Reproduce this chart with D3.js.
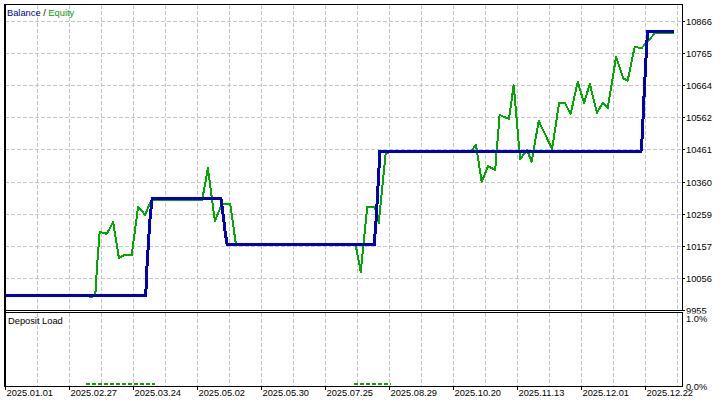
<!DOCTYPE html>
<html>
<head>
<meta charset="utf-8">
<script src="https://cdn.jsdelivr.net/npm/d3@7"></script>
<style>
  body { margin: 0; background: #fff; }
  text { font-family: "Liberation Sans", Arial, sans-serif; font-size: 9.3px; }
</style>
</head>
<body>
<script>
// Tick labels
const dateLabels = ['2025.01.01', '2025.02.27', '2025.03.24', '2025.05.02', '2025.05.30',
    '2025.07.25', '2025.08.29', '2025.10.20', '2025.11.13', '2025.12.01', '2025.12.22'];
const dateIndex = [0, 10, 20, 30, 40, 50, 60, 70, 80, 90, 100];
const valueTicks = [9955, 10056, 10157, 10259, 10360, 10461, 10562, 10664, 10765, 10866];

// Balance: [deal index, value]
const balance = [
    [0, 10002], [22.0, 10002], [22.2, 10097], [22.7, 10254], [23.0, 10305],
    [33.75, 10305], [34.1, 10254], [34.4, 10201], [34.7, 10163],
    [57.7, 10163], [58.0, 10239], [58.3, 10349], [58.6, 10456],
    [99.4, 10456], [99.6, 10506], [99.9, 10645], [100.4, 10832], [104.5, 10832]
];

// Equity: [deal index, value]
const equity = [
    [0, 9999], [13.0, 9999], [13.4, 9996], [14.1, 9999], [14.4, 10097], [14.8, 10201],
    [15.9, 10195], [16.9, 10232], [17.8, 10119], [18.6, 10128], [19.8, 10128],
    [20.8, 10280], [21.9, 10255], [22.8, 10299], [23.4, 10302], [30.8, 10302],
    [31.25, 10349], [31.7, 10403], [32.8, 10236], [33.9, 10289], [35.2, 10289],
    [36.1, 10160], [54.8, 10160], [55.6, 10075], [56.6, 10280], [57.8, 10280],
    [58.4, 10229], [59.5, 10450], [60.6, 10453], [72.7, 10453], [73.6, 10475],
    [74.5, 10359], [75.5, 10409], [76.6, 10396], [77.3, 10570], [78.75, 10557],
    [79.5, 10664], [80.5, 10431], [81.6, 10459], [82.3, 10422], [83.4, 10551],
    [85.5, 10463], [86.6, 10608], [87.5, 10608], [88.4, 10573], [89.5, 10674],
    [90.5, 10608], [91.4, 10668], [92.5, 10576], [93.4, 10608], [94.2, 10592],
    [95.5, 10753], [96.6, 10686], [97.3, 10677], [98.4, 10784], [99.5, 10781],
    [101.6, 10828], [104.5, 10828]
];

// Deposit load, percent: [from index, to index, value]
const depositLoad = [[12.7, 23.4, 0.03], [54.5, 60.3, 0.03]];

const width = 727;
const height = 403;
const left = 4.5, right = 682;
const mainTop = 4.5, mainBottom = 310.5;
const subTop = 312.5, subBottom = 386.5;

const svg = d3.select('body')
    .append('svg')
    .attr('width', width)
    .attr('height', height);

const x = d3.scaleLinear().domain([0, 105.8]).range([5, 682]);
const y = d3.scaleLinear().domain([9955, 10866]).range([310, 21]);
const ySub = d3.scaleLinear().domain([0, 1]).range([subBottom, subTop]);

// Grid
const grid = svg.append('g')
    .attr('stroke', '#c4c4c4')
    .attr('stroke-dasharray', '4,2')
    .attr('shape-rendering', 'crispEdges');

d3.range(5, 106, 5).forEach(t => {
    grid.append('line')
        .attr('x1', Math.round(x(t)) + 0.5).attr('x2', Math.round(x(t)) + 0.5)
        .attr('y1', mainTop).attr('y2', mainBottom);
    grid.append('line')
        .attr('x1', Math.round(x(t)) + 0.5).attr('x2', Math.round(x(t)) + 0.5)
        .attr('y1', subTop).attr('y2', subBottom);
});

valueTicks.slice(1).forEach(v => {
    grid.append('line')
        .attr('x1', left).attr('x2', right)
        .attr('y1', Math.round(y(v)) + 0.5).attr('y2', Math.round(y(v)) + 0.5);
});

// Lines
svg.append('clipPath').attr('id', 'clipMain')
    .append('rect')
    .attr('x', left).attr('y', mainTop)
    .attr('width', right - left).attr('height', mainBottom - mainTop);

const line = d3.line()
    .x(d => x(d[0]))
    .y(d => y(d[1]));

const plot = svg.append('g').attr('clip-path', 'url(#clipMain)');

plot.append('path')
    .datum(equity)
    .attr('d', line)
    .attr('fill', 'none')
    .attr('stroke', '#00a800')
    .attr('stroke-width', 2)
    .attr('stroke-linejoin', 'round')
    .attr('shape-rendering', 'crispEdges');

plot.append('path')
    .datum(balance)
    .attr('d', line)
    .attr('fill', 'none')
    .attr('stroke', '#0000b4')
    .attr('stroke-width', 3)
    .attr('shape-rendering', 'crispEdges');

// Deposit load
svg.selectAll('.load')
    .data(depositLoad)
    .enter()
    .append('line')
    .attr('x1', d => x(d[0]))
    .attr('x2', d => x(d[1]))
    .attr('y1', d => ySub(d[2]))
    .attr('y2', d => ySub(d[2]))
    .attr('stroke', '#00a800')
    .attr('stroke-width', 2)
    .attr('stroke-dasharray', '4,2')
    .attr('shape-rendering', 'crispEdges');

// Frames
const frame = svg.append('g')
    .attr('fill', 'none')
    .attr('stroke', '#000')
    .attr('shape-rendering', 'crispEdges');

frame.append('rect')
    .attr('x', left).attr('y', mainTop)
    .attr('width', right - left).attr('height', mainBottom - mainTop);
frame.append('rect')
    .attr('x', left).attr('y', subTop)
    .attr('width', right - left).attr('height', subBottom - subTop);
frame.append('line')
    .attr('x1', left).attr('x2', left)
    .attr('y1', mainTop).attr('y2', subBottom)
    .attr('stroke-width', 2);

// Right value axis
valueTicks.forEach(v => {
    const yy = Math.round(y(v)) + 0.5;
    frame.append('line')
        .attr('x1', right).attr('x2', right + 3)
        .attr('y1', yy).attr('y2', yy);
    svg.append('text')
        .attr('x', right + 4)
        .attr('y', yy)
        .attr('dy', '0.35em')
        .text(v);
});

// the percent labels sit on a white box that hides the lower part of 9955
svg.append('rect')
    .attr('x', right + 2).attr('y', subTop + 1)
    .attr('width', 30).attr('height', 10)
    .attr('fill', '#fff');

['0.0%', '1.0%'].forEach((s, i) => {
    svg.append('text')
        .attr('x', right + 4)
        .attr('y', i === 0 ? subBottom : subTop + 6)
        .attr('dy', '0.35em')
        .text(s);
});

// Date axis
dateIndex.forEach((t, i) => {
    const xx = Math.round(x(t)) + 0.5;
    frame.append('line')
        .attr('x1', xx).attr('x2', xx)
        .attr('y1', subBottom).attr('y2', subBottom + 3);
    svg.append('text')
        .attr('x', xx + 1)
        .attr('y', 393)
        .attr('dy', '0.35em')
        .text(dateLabels[i]);
});

// Titles
const legend = svg.append('text')
    .attr('x', 7)
    .attr('y', 13)
    .attr('dy', '0.35em');
legend.append('tspan').attr('fill', '#00008c').text('Balance');
legend.append('tspan').attr('fill', '#000').text(' / ');
legend.append('tspan').attr('fill', '#00a000').text('Equity');

svg.append('text')
    .attr('x', 8)
    .attr('y', 320.5)
    .attr('dy', '0.35em')
    .text('Deposit Load');
</script>
</body>
</html>
